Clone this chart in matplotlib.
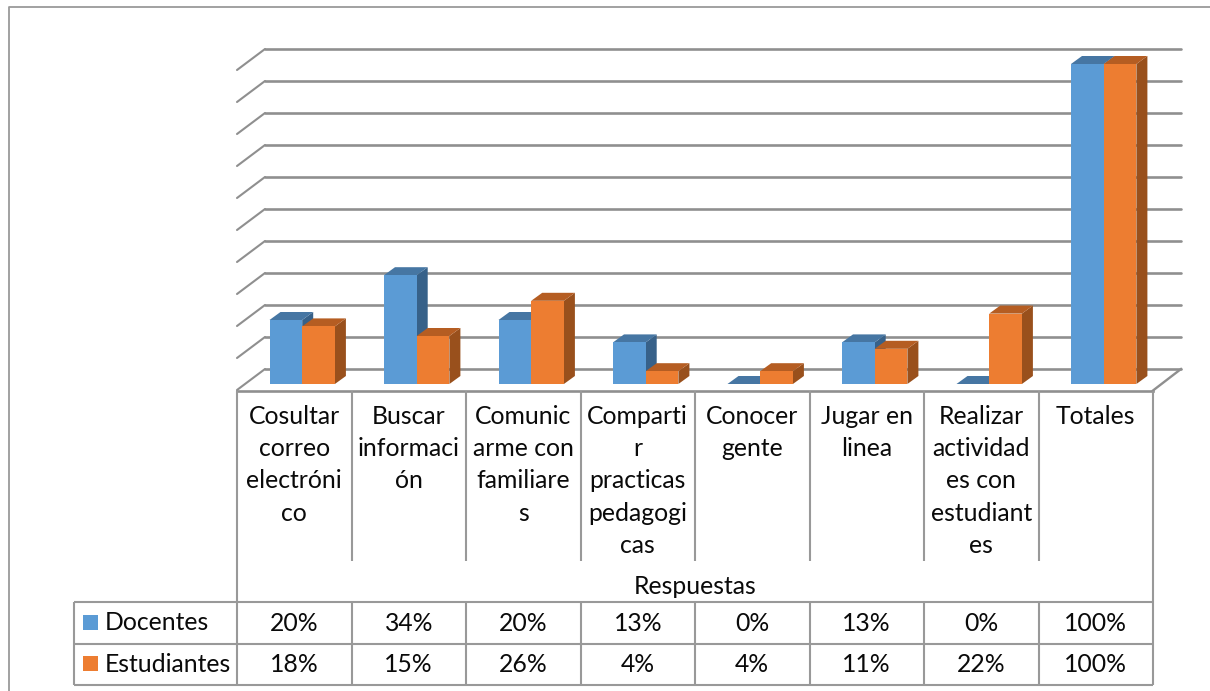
import matplotlib
matplotlib.use("Agg")
import matplotlib.pyplot as plt
from matplotlib.patches import Polygon, Rectangle

categories = ["Cosultar\ncorreo\nelectróni\nco", "Buscar\ninformaci\nón", "Comunic\narme con\nfamiliare\ns",
              "Comparti\nr\npracticas\npedagogi\ncas", "Conocer\ngente", "Jugar en\nlinea",
              "Realizar\nactividad\nes con\nestudiant\nes", "Totales"]
docentes = [20, 34, 20, 13, 0, 13, 0, 100]
estudiantes = [18, 15, 26, 4, 4, 11, 22, 100]
series_names = ["Docentes", "Estudiantes"]
axis_title = "Respuestas"
gridvals = list(range(0, 101, 10))

plt.rcParams['font.family'] = ['Lato', 'DejaVu Sans']
W, H = 1210, 691
CW = 114.5
X0 = 237.0
Y0 = 384.0
SY = 3.2

fig = plt.figure(figsize=(W / 100, H / 100), dpi=100)
ax = fig.add_axes([0, 0, 1, 1])
ax.set_xlim(-X0 / CW, (W - X0) / CW)
ax.set_ylim((Y0 - H) / SY, Y0 / SY)
ax.axis('off')


def X(px):
    return (px - X0) / CW


def Y(py):
    return (Y0 - py) / SY


GRID = '#8f8f8f'
TAB = '#999999'
# depth of wall and bars, in data units
wx, wy = 28 / CW, 21 / SY
bx, by = 11 / CW, 8 / SY
yfloor = Y(390.5)

# walls
for g in gridvals:
    yb = Y(369) + g
    ax.plot([X(265), X(1181)], [yb, yb], color=GRID, lw=1.9, zorder=1, solid_capstyle='round')
    ax.plot([X(265), X(265) - wx], [yb, yb - wy], color=GRID, lw=1.5, zorder=1, solid_capstyle='round')
ax.plot([X(1181), X(1153)], [Y(369), yfloor], color=GRID, lw=1.7, zorder=1)
ax.plot([0, 8], [yfloor, yfloor], color=GRID, lw=1.9, zorder=1)

# bars
bw = 32.7 / CW
off = 32.5 / CW
faces = [("#5B9BD5", "#4676A3", "#376189"), ("#ED7D31", "#B55D22", "#99501C")]
for s, vals in enumerate([docentes, estudiantes]):
    xs = [i + off + s * bw for i in range(len(vals))]
    front, top, side = faces[s]
    for x, v in zip(xs, vals):
        z = 3 + s + x * 0.01
        ax.add_patch(Polygon([(x + bw, 0), (x + bw + bx, by), (x + bw + bx, v + by), (x + bw, v)],
                             closed=True, fc=side, ec='none', zorder=z))
        ax.add_patch(Polygon([(x, v), (x + bx, v + by), (x + bw + bx, v + by), (x + bw, v)],
                             closed=True, fc=top, ec='none', zorder=z))
    ax.bar(xs, vals, width=bw, align='edge', color=front, linewidth=0, zorder=3.5 + s)

# table
yc_bottom = Y(561)
yr0, yr1, yr2 = Y(602), Y(643.5), Y(685)
for i in range(9):
    top = yfloor
    bottom = yr2 if i in (0, 8) else yc_bottom
    ax.plot([i, i], [top, bottom], color=TAB, lw=1.5, zorder=2, solid_capstyle='butt')
    if 0 < i < 8:
        ax.plot([i, i], [yr0, yr2], color=TAB, lw=1.5, zorder=2, solid_capstyle='butt')
for yy in (yr0, yr1, yr2):
    ax.plot([X(73.5), 8], [yy, yy], color=TAB, lw=1.5, zorder=2, solid_capstyle='butt')
ax.plot([X(73.5), X(73.5)], [yr0, yr2], color=TAB, lw=1.5, zorder=2, solid_capstyle='butt')

FS = 17.8
INK = '#0a0a0a'
for i, c in enumerate(categories):
    for k, line in enumerate(c.split("\n")):
        ax.text(i + 0.5, Y(424 + 32.2 * k), line, ha='center', va='baseline', fontsize=FS, color=INK)
ax.text(4, Y(594), axis_title, ha='center', va='baseline', fontsize=FS, color=INK)
for row, (vals, base, mid) in enumerate(zip([docentes, estudiantes], [631, 672.5], [622, 663.5])):
    for i, v in enumerate(vals):
        ax.text(i + 0.5, Y(base), f"{v}%", ha='center', va='baseline', fontsize=FS, color=INK)
    ax.text(X(105), Y(base - 1), series_names[row], ha='left', va='baseline', fontsize=FS, color=INK)
    ax.add_patch(Rectangle((X(83), Y(mid + 7.5)), 15 / CW, 15 / SY, fc=faces[row][0], ec='none', zorder=3))

# outer border
ax.plot([X(9), X(9), X(1210)], [Y(691), Y(7), Y(7)], color='#9a9a9a', lw=1.3, zorder=1)

fig.savefig('out.png', dpi=100)
